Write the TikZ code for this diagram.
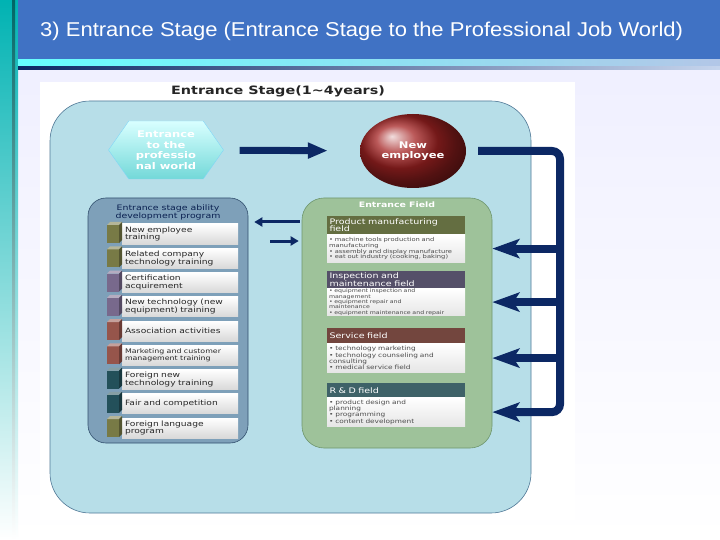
\documentclass[tikz,border=0pt]{standalone}
\usepackage{fontspec}
\setmainfont{Liberation Sans}
\newfontfamily\titlefont[FakeStretch=1.1]{Liberation Sans}
\newfontfamily\diafont[FakeStretch=1.25]{DejaVu Sans}
\usetikzlibrary{shapes.geometric, shapes.symbols, arrows.meta}

\definecolor{titleblue}{RGB}{64,114,196}
\definecolor{navy}{RGB}{12,40,100}
\definecolor{stagefill}{RGB}{183,222,232}
\definecolor{stageline}{RGB}{80,120,150}
\definecolor{progfill}{RGB}{126,160,185}
\definecolor{progline}{RGB}{50,80,110}
\definecolor{entfill}{RGB}{158,194,154}
\definecolor{entline}{RGB}{110,150,110}
\definecolor{olivec}{RGB}{120,122,70}
\definecolor{purplec}{RGB}{120,105,140}
\definecolor{brownc}{RGB}{150,85,75}
\definecolor{tealc}{RGB}{35,80,90}
\definecolor{headolive}{RGB}{100,110,65}
\definecolor{headpurple}{RGB}{85,80,105}
\definecolor{headbrown}{RGB}{115,70,62}
\definecolor{headteal}{RGB}{62,98,104}
\definecolor{empred}{RGB}{165,35,35}

\begin{document}
\begin{tikzpicture}[x=1pt, y=-1pt,
    panel/.style={draw, line width=0.6pt},
    itembox/.style={minimum width=116pt, minimum height=20pt, inner sep=0pt,
        top color=white, bottom color=gray!30, text width=110pt, align=left,
        text=black!85, font=\diafont\fontsize{7.3}{7.6}\selectfont},
    fieldhead/.style={anchor=north, minimum width=138pt, inner sep=0pt,
        text width=133pt, align=left, text=white,
        font=\diafont\fontsize{7.6}{7.8}\selectfont},
    fieldbody/.style={anchor=north, minimum width=138pt, inner sep=0pt,
        text width=134pt, align=left, top color=white, bottom color=gray!20,
        text=black!70},
    bus/.style={navy, line width=8pt},
    fbarrow/.style={bus, -{Stealth[length=27pt, width=19pt, inset=6pt]}},
    link/.style={navy, line width=3pt, -{Triangle[length=8pt, width=9pt]}},
]
    \useasboundingbox (0,0) rectangle (720,540);

    % slide background
    \fill[white] (0,0) rectangle (720,540);
    \shade[top color=blue!6, bottom color=white] (18,70) rectangle (720,540);
    \shade[top color=teal!60!cyan, bottom color=white] (0,0) rectangle (18,540);
    \shade[top color=teal!80!black, bottom color=white] (12,0) rectangle (15,540);

    % title band
    \fill[titleblue] (18,0) rectangle (720,60);
    \shade[left color=cyan!60, right color=titleblue!40] (18,60) rectangle (720,67);
    \shade[left color=navy, right color=titleblue!30] (18,67) rectangle (720,70);
    \node[text=white, anchor=west, inner sep=0pt, font=\titlefont\fontsize{20}{20}\selectfont]
        (title) at (40,31) {3) Entrance Stage (Entrance Stage to the Professional Job World)};

    % picture area
    \fill[white] (40,82) rectangle (575,520);
    \node[text=black!85, font=\diafont\bfseries\fontsize{11.5}{12}\selectfont]
        (head) at (278,91) {Entrance Stage(1\textasciitilde 4years)};
    \node[panel, draw=stageline, fill=stagefill, rounded corners=40pt,
        minimum width=481pt, minimum height=412pt] (stage) at (290.5,307) {};

    % entrance -> new employee
    \node[signal, signal to=west and east, signal pointer angle=110,
        minimum width=115pt, minimum height=58pt, inner sep=0pt,
        top color=cyan!15!white, bottom color=cyan!45!teal!55, draw=white!50!cyan,
        text=white, align=center, font=\diafont\bfseries\fontsize{9.2}{10.5}\selectfont]
        (hex) at (166,150) {Entrance\\to the\\professio\\nal world};
    \node[ellipse, minimum width=106pt, minimum height=74pt, shading=ball,
        ball color=empred, text=white, align=center,
        font=\diafont\bfseries\fontsize{9.2}{10}\selectfont]
        (emp) at (413,151) {New\\employee};
    \draw[navy, line width=7pt, -{Triangle[length=20pt, width=15pt]},
        shorten <=16pt, shorten >=32pt] (hex) -- (emp);

    % ability development program
    \node[panel, draw=progline, fill=progfill, rounded corners=18pt,
        minimum width=160pt, minimum height=245pt] (prog) at (168,320.5) {};
    \node[text=navy!80!black, align=center, font=\diafont\fontsize{7.5}{8}\selectfont]
        (progtit) at (168,212) {Entrance stage ability\\development program};
    \foreach \txt/\col [count=\i] in {New employee\\training/olivec,
            Related company\\technology training/olivec,
            Certification\\acquirement/purplec,
            New technology (new\\equipment) training/purplec,
            Association activities/brownc,
            \fontsize{6.3}{6.6}\selectfont Marketing and customer\\management training/brownc,
            Foreign new\\technology training/tealc,
            Fair and competition/tealc,
            Foreign language\\program/olivec} {
        \pgfmathsetmacro\yy{234+24.25*(\i-1)}
        \node[itembox] (it\i) at (180,\yy) {\txt};
        \fill[\col] (107,\yy-9) rectangle (119,\yy+9);
        \fill[\col!55!white] (107,\yy-9) -- (110,\yy-12) -- (122,\yy-12) -- (119,\yy-9) -- cycle;
        \fill[\col!70!black] (119,\yy-9) -- (122,\yy-12) -- (122,\yy+6) -- (119,\yy+9) -- cycle;
    }

    % entrance field
    \node[panel, draw=entline, fill=entfill, rounded corners=22pt,
        minimum width=190pt, minimum height=250pt] (ent) at (397,323) {};
    \node[text=white, font=\diafont\bfseries\fontsize{7.5}{8}\selectfont]
        (enttit) at (397,205) {Entrance Field};

    \node[fieldhead, fill=headolive, minimum height=18pt] (fh1) at (396,216)
        {Product manufacturing\\field};
    \node[fieldbody, minimum height=28pt, font=\diafont\fontsize{5.4}{5.9}\selectfont]
        (fb1) at (fh1.south) {• machine tools production and\\manufacturing\\• assembly and display manufacture\\• eat out industry (cooking, baking)};
    \node[fieldhead, fill=headpurple, minimum height=17pt] (fh2) at (396,271)
        {Inspection and\\maintenance field};
    \node[fieldbody, minimum height=27pt, font=\diafont\fontsize{5}{5.3}\selectfont]
        (fb2) at (fh2.south) {• equipment inspection and\\management\\• equipment repair and\\maintenance\\• equipment maintenance and repair};
    \node[fieldhead, fill=headbrown, minimum height=15pt] (fh3) at (396,328)
        {Service field};
    \node[fieldbody, minimum height=29pt, font=\diafont\fontsize{5.9}{6.3}\selectfont]
        (fb3) at (fh3.south) {• technology marketing\\• technology counseling and\\consulting\\• medical service field};
    \node[fieldhead, fill=headteal, minimum height=14pt] (fh4) at (396,383)
        {R \& D field};
    \node[fieldbody, minimum height=29pt, font=\diafont\fontsize{5.9}{6.3}\selectfont]
        (fb4) at (fh4.south) {• product design and\\planning\\• programming\\• content development};

    % links between the two panels
    \coordinate (lkA) at (0,222);
    \coordinate (lkB) at (0,241);
    \draw[link, shorten >=6pt, shorten <=2pt] (ent.west |- lkA) -- (prog.east |- lkA);
    \draw[link, shorten <=22pt, shorten >=3pt] (prog.east |- lkB) -- (ent.west |- lkB);

    % feedback bus to the fields
    \coordinate (busx) at (560,0);
    \draw[fbarrow, rounded corners=8pt] ([xshift=12pt]emp.east) -| (busx |- fb4) -- (ent.east |- fb4);
    \foreach \f in {fb1,fb2,fb3}
        \draw[fbarrow] (busx |- \f) -- (ent.east |- \f);
\end{tikzpicture}
\end{document}
